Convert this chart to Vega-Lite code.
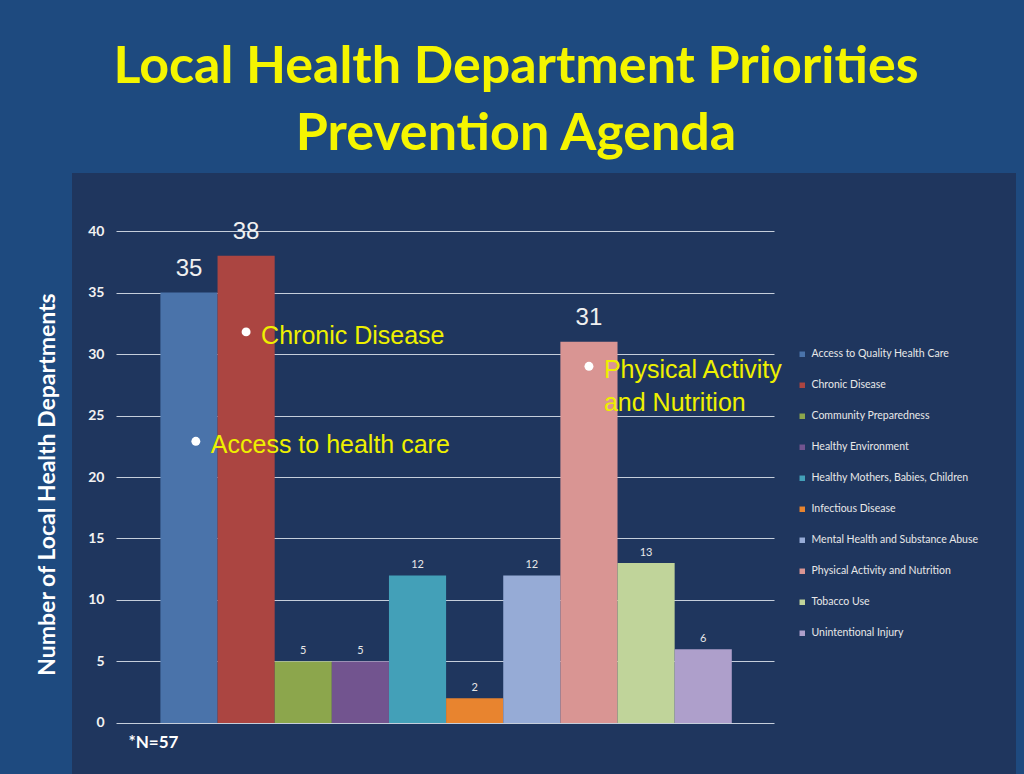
{
  "$schema": "https://vega.github.io/schema/vega-lite/v6.json",
  "width": 944,
  "height": 601,
  "autosize": {"type": "none"},
  "padding": {"left": 72, "top": 173, "right": 8, "bottom": 0},
  "background": "#1e4a7f",
  "config": {"view": {"fill": "#1f365e", "stroke": null}, "font": "Lato"},
  "title": {
    "text": ["Local Health Department Priorities", "Prevention Agenda"],
    "font": "Lato", "fontSize": 52, "fontWeight": "bold", "color": "#f5f500",
    "lineHeight": 67, "anchor": "middle", "dx": -28, "offset": 12
  },
  "datasets": {
    "priorities": [
      {"priority": "Access to Quality Health Care", "count": 35},
      {"priority": "Chronic Disease", "count": 38},
      {"priority": "Community Preparedness", "count": 5},
      {"priority": "Healthy Environment", "count": 5},
      {"priority": "Healthy Mothers,  Babies, Children", "count": 12},
      {"priority": "Infectious Disease", "count": 2},
      {"priority": "Mental Health and Substance Abuse", "count": 12},
      {"priority": "Physical Activity and Nutrition", "count": 31},
      {"priority": "Tobacco Use", "count": 13},
      {"priority": "Unintentional Injury", "count": 6}
    ],
    "notes": [
      {"priority": "Access to Quality Health Care", "at": 22.9, "note": "Access to health care"},
      {"priority": "Chronic Disease", "at": 31.8, "note": "Chronic Disease"},
      {"priority": "Physical Activity and Nutrition", "at": 29.0, "note": "Physical Activity\nand Nutrition"}
    ]
  },
  "layer": [
    {
      "data": {"name": "priorities"},
      "mark": {"type": "bar"},
      "encoding": {
        "x": {
          "field": "priority", "type": "nominal", "sort": null,
          "scale": {"paddingInner": 0, "paddingOuter": 0, "range": [88.4, 659.8]},
          "axis": {
            "title": "*N=57", "labels": false, "ticks": false, "domain": false, "grid": false,
            "titleAnchor": "start", "titleAlign": "left", "titleX": 56, "titleY": -32,
            "titleBaseline": "middle", "titleColor": "#ffffff", "titleFontSize": 17,
            "titleFont": "Lato", "titleFontWeight": "bold"
          }
        },
        "y": {
          "field": "count", "type": "quantitative",
          "scale": {"domain": [-4.15, 44.72], "nice": false, "zero": false},
          "axis": {
            "values": [0, 5, 10, 15, 20, 25, 30, 35, 40],
            "offset": -44, "tickSize": -658, "labelPadding": 670,
            "tickColor": "#c5cedb", "tickWidth": 1,
            "domain": false, "grid": false,
            "labelColor": "#f2f2f2", "labelFont": "Lato", "labelFontSize": 14, "labelFontWeight": "bold",
            "title": "Number of Local Health Departments",
            "titleColor": "#ffffff", "titleFont": "Lato", "titleFontSize": 23, "titleFontWeight": "bold",
            "titleX": -69, "titleY": 311, "titleBaseline": "middle", "titleAlign": "center", "titleAngle": -90
          }
        },
        "color": {
          "field": "priority", "type": "nominal", "sort": null,
          "scale": {
            "range": ["#4a73aa", "#ab4541", "#8ca64c", "#72548f", "#43a0b8", "#e8842f", "#96abd6", "#d99593", "#c0d49a", "#ae9fcb"]
          },
          "legend": {
            "orient": "none", "legendX": 725, "legendY": 176, "title": null,
            "symbolType": "square", "symbolSize": 30, "symbolStrokeWidth": 0,
            "labelColor": "#e8e8e8", "labelFont": "Lato", "labelFontSize": 10.5,
            "labelOffset": 4, "rowPadding": 20, "padding": 0, "labelLimit": 300
          }
        }
      }
    },
    {
      "data": {"name": "priorities"},
      "transform": [{"filter": "datum.count > 30"}],
      "mark": {"type": "text", "baseline": "alphabetic", "dy": -17, "fontSize": 24, "font": "Liberation Sans", "color": "#f0f0f0"},
      "encoding": {
        "x": {"field": "priority", "type": "nominal", "sort": null},
        "y": {"field": "count", "type": "quantitative"},
        "text": {"field": "count", "type": "quantitative"}
      }
    },
    {
      "data": {"name": "priorities"},
      "transform": [{"filter": "datum.count <= 30"}],
      "mark": {"type": "text", "baseline": "alphabetic", "dy": -7, "fontSize": 11, "font": "Lato", "color": "#e8e8e8"},
      "encoding": {
        "x": {"field": "priority", "type": "nominal", "sort": null},
        "y": {"field": "count", "type": "quantitative"},
        "text": {"field": "count", "type": "quantitative"}
      }
    },
    {
      "mark": {"type": "rule", "color": "#c5cedb", "strokeWidth": 1},
      "encoding": {
        "x": {"datum": "Access to Quality Health Care", "type": "nominal", "bandPosition": -0.777},
        "y": {"datum": 0, "type": "quantitative"},
        "y2": {"datum": 40}
      }
    },
    {
      "data": {"name": "notes"},
      "transform": [{"filter": "datum.priority != 'Access to Quality Health Care'"}],
      "mark": {"type": "circle", "size": 80, "color": "#ffffff", "opacity": 1},
      "encoding": {
        "x": {"field": "priority", "type": "nominal", "sort": null},
        "y": {"field": "at", "type": "quantitative"}
      }
    },
    {
      "data": {"name": "notes"},
      "transform": [{"filter": "datum.priority != 'Access to Quality Health Care'"}],
      "mark": {
        "type": "text", "align": "left", "baseline": "alphabetic", "dx": 15, "dy": 12,
        "fontSize": 25, "font": "Liberation Sans", "color": "#eef000", "lineHeight": 33, "lineBreak": "\n"
      },
      "encoding": {
        "x": {"field": "priority", "type": "nominal", "sort": null},
        "y": {"field": "at", "type": "quantitative"},
        "text": {"field": "note", "type": "nominal"}
      }
    },
    {
      "data": {"name": "notes"},
      "transform": [{"filter": "datum.priority == 'Access to Quality Health Care'"}],
      "mark": {"type": "circle", "size": 80, "color": "#ffffff", "opacity": 1},
      "encoding": {
        "x": {"field": "priority", "type": "nominal", "sort": null, "bandPosition": 0.62},
        "y": {"field": "at", "type": "quantitative"}
      }
    },
    {
      "data": {"name": "notes"},
      "transform": [{"filter": "datum.priority == 'Access to Quality Health Care'"}],
      "mark": {
        "type": "text", "align": "left", "baseline": "alphabetic", "dx": 15, "dy": 12,
        "fontSize": 25, "font": "Liberation Sans", "color": "#eef000"
      },
      "encoding": {
        "x": {"field": "priority", "type": "nominal", "sort": null, "bandPosition": 0.62},
        "y": {"field": "at", "type": "quantitative"},
        "text": {"field": "note", "type": "nominal"}
      }
    }
  ]
}
